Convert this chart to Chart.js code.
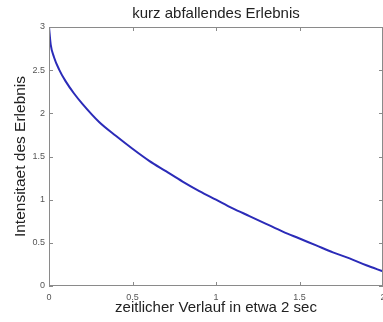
<!DOCTYPE html>
<html>
<head>
<meta charset="utf-8">
<script src="https://cdn.jsdelivr.net/npm/chart.js@4/dist/chart.umd.min.js"></script>
<style>
  html, body { margin: 0; padding: 0; background: #fff; }
  #wrap { width: 383px; height: 322px; }
</style>
</head>
<body>
<div id="wrap"><canvas id="grafica"></canvas></div>
<script>
// Datos
const zeit = [0, 0.01, 0.03, 0.06, 0.1, 0.15, 0.2, 0.3, 0.4, 0.5, 0.6, 0.7, 0.8, 0.9, 1.0,
              1.1, 1.2, 1.3, 1.4, 1.5, 1.6, 1.7, 1.8, 1.9, 2.0];
const intensitaet = [3, 2.80, 2.65, 2.51, 2.37, 2.23, 2.11, 1.90, 1.74, 1.59, 1.45, 1.33, 1.21, 1.10, 1.00,
                     0.90, 0.81, 0.72, 0.63, 0.55, 0.47, 0.39, 0.32, 0.24, 0.17];
const xTicks = [0, 0.5, 1, 1.5, 2];
const yTicks = [0, 0.5, 1, 1.5, 2, 2.5, 3];

const puntos = zeit.map((t, i) => ({ x: t, y: intensitaet[i] }));

// Marco y marcas hacia dentro (estilo MATLAB)
const marco = {
    id: 'marco',
    afterDraw(chart) {
        const ctx = chart.ctx;
        const a = chart.chartArea;
        const sx = chart.scales.x, sy = chart.scales.y;
        ctx.save();
        ctx.strokeStyle = '#8a8a8a';
        ctx.lineWidth = 1;
        ctx.strokeRect(a.left + 0.5, a.top + 0.5, a.right - a.left - 1, a.bottom - a.top - 1);
        ctx.beginPath();
        xTicks.forEach(v => {
            const px = Math.round(sx.getPixelForValue(v)) + 0.5;
            ctx.moveTo(px, a.bottom); ctx.lineTo(px, a.bottom - 4);
            ctx.moveTo(px, a.top); ctx.lineTo(px, a.top + 4);
        });
        yTicks.forEach(v => {
            const py = Math.round(sy.getPixelForValue(v)) + 0.5;
            ctx.moveTo(a.left, py); ctx.lineTo(a.left + 4, py);
            ctx.moveTo(a.right, py); ctx.lineTo(a.right - 4, py);
        });
        ctx.stroke();
        ctx.restore();
    }
};

const ctx = document.getElementById('grafica').getContext('2d');
new Chart(ctx, {
    type: 'scatter',
    data: {
        datasets: [{
            label: 'Erlebnis',
            data: puntos,
            showLine: true,
            borderColor: '#2b2bb8',
            borderWidth: 2,
            pointRadius: 0,
            cubicInterpolationMode: 'monotone'
        }]
    },
    options: {
        responsive: true,
        maintainAspectRatio: false,
        animation: false,
        layout: { padding: 0 },
        plugins: {
            legend: { display: false },
            tooltip: { enabled: false },
            title: {
                display: true,
                text: 'kurz abfallendes Erlebnis',
                fullSize: false,
                color: '#222',
                font: { family: 'Liberation Sans, Arial', size: 15, weight: 'normal', lineHeight: 1.2 },
                padding: { top: 5, bottom: 4 }
            }
        },
        scales: {
            x: {
                type: 'linear',
                min: 0,
                max: 2,
                afterBuildTicks: s => { s.ticks = xTicks.map(v => ({ value: v })); },
                afterFit: s => { s.height = 36; s.paddingRight = 0; s.paddingLeft = 0; },
                grid: { display: false, drawTicks: false },
                border: { display: false },
                ticks: {
                    color: '#555',
                    font: { family: 'Liberation Sans, Arial', size: 9 },
                    padding: 6,
                    maxRotation: 0,
                    callback: v => String(v)
                },
                title: {
                    display: true,
                    text: 'zeitlicher Verlauf in etwa 2 sec',
                    color: '#222',
                    font: { family: 'Liberation Sans, Arial', size: 15, lineHeight: 1.2 },
                    padding: { top: 0, bottom: 5 }
                }
            },
            y: {
                type: 'linear',
                min: 0,
                max: 3,
                afterBuildTicks: s => { s.ticks = yTicks.map(v => ({ value: v })); },
                afterFit: s => { s.width = 49; s.paddingTop = 0; s.paddingBottom = 0; },
                grid: { display: false, drawTicks: false },
                border: { display: false },
                ticks: {
                    color: '#555',
                    font: { family: 'Liberation Sans, Arial', size: 9 },
                    padding: 4,
                    callback: v => String(v)
                },
                title: {
                    display: true,
                    text: 'Intensitaet des Erlebnis',
                    color: '#222',
                    font: { family: 'Liberation Sans, Arial', size: 15.5, lineHeight: 1.2 },
                    padding: { top: 11, bottom: 0 }
                }
            }
        }
    },
    plugins: [marco]
});
</script>
</body>
</html>
